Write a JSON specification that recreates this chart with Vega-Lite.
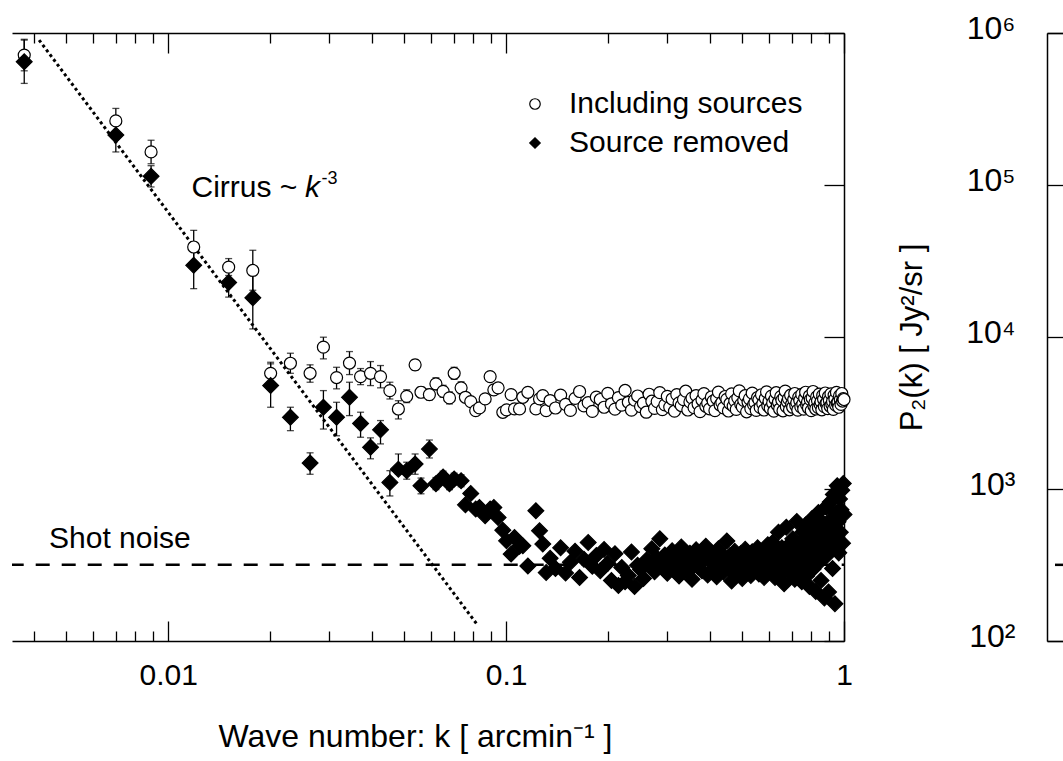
{
  "$schema": "https://vega.github.io/schema/vega-lite/v6.json",
  "padding": {"left": 10, "top": 12, "right": 0, "bottom": 5},
  "background": "white",
  "config": {"view": {"stroke": null}, "font": "Liberation Sans"},
  "spacing": 203,
  "bounds": "flush",
  "resolve": {"legend": {"shape": "independent", "fill": "independent", "stroke": "independent"}},
  "datasets": {
    "pts": [
      {"k":0.00375,"inc":716000,"rem":647000},{"k":0.0070,"inc":264000,"rem":213000},{"k":0.0089,"inc":165000,"rem":114000},
      {"k":0.0119,"inc":39100,"rem":29600},{"k":0.0151,"inc":28800,"rem":22800},{"k":0.0178,"inc":27400,"rem":18100},
      {"k":0.0201,"inc":5770,"rem":4790},{"k":0.0230,"inc":6720,"rem":2960},{"k":0.0263,"inc":5770,"rem":1480},
      {"k":0.0288,"inc":8570,"rem":3450},{"k":0.0315,"inc":5410,"rem":2960},{"k":0.0344,"inc":6740,"rem":4010},
      {"k":0.0371,"inc":5490,"rem":2700},{"k":0.0397,"inc":5770,"rem":1880},{"k":0.0425,"inc":5490,"rem":2450},
      {"k":0.0453,"inc":4440,"rem":1105},{"k":0.0480,"inc":3360,"rem":1350},{"k":0.0508,"inc":4070,"rem":1320},
      {"k":0.0538,"inc":6560,"rem":1460},{"k":0.0560,"inc":4330,"rem":1050},{"k":0.0593,"inc":4180,"rem":1830},
      {"k":0.0620,"inc":4920,"rem":1083},{"k":0.0651,"inc":4390,"rem":1200},{"k":0.0680,"inc":3975,"rem":1083},
      {"k":0.0702,"inc":5770,"rem":1163},{"k":0.0736,"inc":4630,"rem":1133},{"k":0.0758,"inc":4012,"rem":787},
      {"k":0.0786,"inc":3758,"rem":935},{"k":0.0813,"inc":3279,"rem":738},{"k":0.0834,"inc":3416,"rem":756},
      {"k":0.0867,"inc":3916,"rem":666},{"k":0.0897,"inc":5492,"rem":738},{"k":0.0920,"inc":4489,"rem":756},
      {"k":0.0947,"inc":4627,"rem":649},{"k":0.0978,"inc":3196,"rem":536},{"k":0.1003,"inc":3313,"rem":456},
      {"k":0.1035,"inc":4180,"rem":373},{"k":0.1059,"inc":3363,"rem":479},{"k":0.1096,"inc":3363,"rem":420},
      {"k":0.1121,"inc":4012,"rem":423},{"k":0.1160,"inc":4327,"rem":312},{"k":0.1225,"inc":3363,"rem":719},
      {"k":0.1256,"inc":3916,"rem":531},{"k":0.1284,"inc":4117,"rem":434},{"k":0.1314,"inc":3279,"rem":282},
      {"k":0.135,"inc":3820,"rem":350},{"k":0.140,"inc":3410,"rem":300},{"k":0.145,"inc":4150,"rem":410},
      {"k":0.150,"inc":3600,"rem":280},{"k":0.155,"inc":3290,"rem":330},{"k":0.160,"inc":3950,"rem":390},
      {"k":0.165,"inc":4380,"rem":262},{"k":0.170,"inc":3520,"rem":345},{"k":0.175,"inc":3700,"rem":445},
      {"k":0.180,"inc":3240,"rem":310},{"k":0.185,"inc":4020,"rem":365},{"k":0.190,"inc":3880,"rem":290},
      {"k":0.195,"inc":3450,"rem":400},{"k":0.200,"inc":4260,"rem":325},{"k":0.205,"inc":3630,"rem":250},
      {"k":0.210,"inc":3350,"rem":375},{"k":0.215,"inc":3990,"rem":232},{"k":0.220,"inc":3560,"rem":305},
      {"k":0.225,"inc":4450,"rem":245},{"k":0.230,"inc":3720,"rem":270},{"k":0.235,"inc":3300,"rem":385},
      {"k":0.240,"inc":3840,"rem":228},{"k":0.245,"inc":4090,"rem":315},{"k":0.250,"inc":3480,"rem":295},
      {"k":0.255,"inc":3670,"rem":258},{"k":0.260,"inc":3200,"rem":340},{"k":0.265,"inc":4200,"rem":330},
      {"k":0.270,"inc":3780,"rem":405},{"k":0.275,"inc":3390,"rem":285},{"k":0.280,"inc":3760,"rem":350},
      {"k":0.285,"inc":4310,"rem":470},{"k":0.290,"inc":3330,"rem":312},{"k":0.295,"inc":3580,"rem":368},
      {"k":0.300,"inc":4070,"rem":279},{"k":0.305,"inc":3460,"rem":335},{"k":0.310,"inc":3910,"rem":392},
      {"k":0.315,"inc":3250,"rem":301},{"k":0.320,"inc":4180,"rem":356},{"k":0.325,"inc":3690,"rem":268},
      {"k":0.330,"inc":3540,"rem":415},{"k":0.335,"inc":3870,"rem":322},{"k":0.340,"inc":4400,"rem":347},
      {"k":0.345,"inc":3310,"rem":286},{"k":0.350,"inc":3740,"rem":378},{"k":0.355,"inc":3960,"rem":255},
      {"k":0.360,"inc":3430,"rem":332},{"k":0.365,"inc":4120,"rem":398},{"k":0.370,"inc":3620,"rem":308},
      {"k":0.375,"inc":3230,"rem":361},{"k":0.380,"inc":3850,"rem":290},{"k":0.385,"inc":4240,"rem":344},
      {"k":0.390,"inc":3500,"rem":420},{"k":0.395,"inc":3680,"rem":272},{"k":0.400,"inc":3370,"rem":338},
      {"k":0.405,"inc":4030,"rem":382},{"k":0.410,"inc":3790,"rem":296},{"k":0.415,"inc":3280,"rem":352},
      {"k":0.420,"inc":3940,"rem":265},{"k":0.425,"inc":4340,"rem":405},{"k":0.430,"inc":3570,"rem":318},
      {"k":0.435,"inc":3710,"rem":372},{"k":0.440,"inc":3420,"rem":284},{"k":0.445,"inc":4060,"rem":341},
      {"k":0.450,"inc":3890,"rem":455},{"k":0.455,"inc":3260,"rem":300},{"k":0.460,"inc":3650,"rem":365},
      {"k":0.465,"inc":4230,"rem":248},{"k":0.470,"inc":3510,"rem":326},{"k":0.475,"inc":3800,"rem":389},
      {"k":0.480,"inc":3340,"rem":292},{"k":0.485,"inc":3980,"rem":347},{"k":0.490,"inc":4420,"rem":310},
      {"k":0.495,"inc":3600,"rem":376},{"k":0.500,"inc":3470,"rem":258},{"k":0.505,"inc":3830,"rem":334},
      {"k":0.510,"inc":4110,"rem":401},{"k":0.515,"inc":3220,"rem":288},{"k":0.520,"inc":3730,"rem":359},
      {"k":0.525,"inc":3920,"rem":313},{"k":0.530,"inc":3380,"rem":270},{"k":0.535,"inc":4270,"rem":386},
      {"k":0.540,"inc":3590,"rem":330},{"k":0.545,"inc":3700,"rem":296},{"k":0.550,"inc":3290,"rem":362},
      {"k":0.555,"inc":4000,"rem":410},{"k":0.560,"inc":3860,"rem":276},{"k":0.565,"inc":3440,"rem":343},
      {"k":0.570,"inc":4170,"rem":305},{"k":0.575,"inc":3640,"rem":392},{"k":0.580,"inc":3310,"rem":262},
      {"k":0.585,"inc":3950,"rem":355},{"k":0.590,"inc":4360,"rem":320},{"k":0.595,"inc":3530,"rem":430},
      {"k":0.600,"inc":3770,"rem":285},{"k":0.605,"inc":3400,"rem":372},{"k":0.610,"inc":4080,"rem":298},
      {"k":0.615,"inc":3680,"rem":445},{"k":0.620,"inc":3250,"rem":340},{"k":0.625,"inc":3900,"rem":262},
      {"k":0.630,"inc":4300,"rem":395},{"k":0.635,"inc":3560,"rem":318},{"k":0.640,"inc":3720,"rem":520},
      {"k":0.645,"inc":3360,"rem":352},{"k":0.650,"inc":4050,"rem":280},{"k":0.655,"inc":3840,"rem":410},
      {"k":0.660,"inc":3270,"rem":330},{"k":0.665,"inc":3990,"rem":238},{"k":0.670,"inc":4410,"rem":368},
      {"k":0.675,"inc":3490,"rem":560},{"k":0.680,"inc":3750,"rem":305},{"k":0.685,"inc":3930,"rem":425},
      {"k":0.690,"inc":3320,"rem":350},{"k":0.695,"inc":4140,"rem":276},{"k":0.700,"inc":3610,"rem":390},
      {"k":0.705,"inc":3450,"rem":470},{"k":0.710,"inc":3880,"rem":322},{"k":0.715,"inc":4250,"rem":255},
      {"k":0.720,"inc":3540,"rem":408},{"k":0.725,"inc":3700,"rem":612},{"k":0.730,"inc":3300,"rem":345},
      {"k":0.735,"inc":4020,"rem":292},{"k":0.740,"inc":3820,"rem":438},{"k":0.745,"inc":3470,"rem":372},
      {"k":0.750,"inc":4190,"rem":245},{"k":0.755,"inc":3630,"rem":520},{"k":0.760,"inc":3350,"rem":395},
      {"k":0.765,"inc":3960,"rem":330},{"k":0.770,"inc":4330,"rem":580},{"k":0.775,"inc":3580,"rem":268},
      {"k":0.780,"inc":3740,"rem":450},{"k":0.785,"inc":3410,"rem":360},{"k":0.790,"inc":4090,"rem":228},
      {"k":0.795,"inc":3870,"rem":505},{"k":0.800,"inc":3280,"rem":405},{"k":0.805,"inc":3970,"rem":640},
      {"k":0.810,"inc":4380,"rem":298},{"k":0.815,"inc":3520,"rem":470},{"k":0.820,"inc":3690,"rem":360},
      {"k":0.825,"inc":3360,"rem":212},{"k":0.830,"inc":4040,"rem":545},{"k":0.835,"inc":3800,"rem":420},
      {"k":0.840,"inc":3430,"rem":700},{"k":0.845,"inc":4210,"rem":330},{"k":0.850,"inc":3600,"rem":480},
      {"k":0.855,"inc":3750,"rem":250},{"k":0.860,"inc":3320,"rem":610},{"k":0.865,"inc":4130,"rem":395},
      {"k":0.870,"inc":3890,"rem":520},{"k":0.875,"inc":3480,"rem":192},{"k":0.880,"inc":4280,"rem":450},
      {"k":0.885,"inc":3650,"rem":760},{"k":0.890,"inc":3710,"rem":365},{"k":0.895,"inc":3380,"rem":580},
      {"k":0.900,"inc":4060,"rem":210},{"k":0.905,"inc":3830,"rem":490},{"k":0.910,"inc":3500,"rem":820},
      {"k":0.915,"inc":4230,"rem":420},{"k":0.920,"inc":3620,"rem":640},{"k":0.925,"inc":3770,"rem":300},
      {"k":0.930,"inc":3340,"rem":920},{"k":0.935,"inc":4150,"rem":540},{"k":0.940,"inc":3900,"rem":176},
      {"k":0.945,"inc":3560,"rem":700},{"k":0.950,"inc":4320,"rem":460},{"k":0.955,"inc":3680,"rem":1050},
      {"k":0.960,"inc":3720,"rem":610},{"k":0.965,"inc":3450,"rem":380},{"k":0.970,"inc":4100,"rem":860},
      {"k":0.975,"inc":3860,"rem":520},{"k":0.980,"inc":3600,"rem":730},{"k":0.985,"inc":4250,"rem":980},
      {"k":0.990,"inc":3790,"rem":440},{"k":0.995,"inc":3930,"rem":1085},{"k":1.000,"inc":3880,"rem":680}
    ],
    "err": [
      {"k":0.00375,"alo":564000,"ahi":909000,"blo":466000,"bhi":898000},
      {"k":0.0070,"alo":219000,"ahi":319000,"blo":165000,"bhi":274000},
      {"k":0.0089,"alo":138000,"ahi":197000,"blo":97100,"bhi":134000},
      {"k":0.0119,"alo":30300,"ahi":50300,"blo":20800,"bhi":42100},
      {"k":0.0151,"alo":25400,"ahi":32800,"blo":18300,"bhi":28300},
      {"k":0.0178,"alo":20300,"ahi":37200,"blo":11300,"bhi":29000},
      {"k":0.0201,"alo":4880,"ahi":6820,"blo":3450,"bhi":6660},
      {"k":0.0230,"alo":5770,"ahi":7820,"blo":2420,"bhi":3450},
      {"k":0.0263,"alo":5040,"ahi":6560,"blo":1250,"bhi":1730},
      {"k":0.0288,"alo":7180,"ahi":9970,"blo":2480,"bhi":4440},
      {"k":0.0315,"alo":4560,"ahi":6320,"blo":2240,"bhi":3720},
      {"k":0.0344,"alo":5660,"ahi":8020,"blo":3040,"bhi":5040},
      {"k":0.0371,"alo":4860,"ahi":6200,"blo":2190,"bhi":3200},
      {"k":0.0397,"alo":4790,"ahi":6890,"blo":1580,"bhi":2170},
      {"k":0.0425,"alo":4630,"ahi":6490,"blo":1980,"bhi":2820},
      {"k":0.0453,"alo":3910,"ahi":5040,"blo":900,"bhi":1320},
      {"k":0.0480,"alo":2890,"ahi":3810,"blo":1250,"bhi":1700},
      {"k":0.0508,"alo":3700,"ahi":4500,"blo":1160,"bhi":1500},
      {"k":0.0538,"alo":6050,"ahi":7100,"blo":1250,"bhi":1700},
      {"k":0.0560,"alo":4000,"ahi":4700,"blo":930,"bhi":1180},
      {"k":0.0593,"alo":3850,"ahi":4550,"blo":1600,"bhi":2100},
      {"k":0.0620,"alo":4490,"ahi":5390,"blo":990,"bhi":1190},
      {"k":0.0651,"alo":4010,"ahi":4810,"blo":1095,"bhi":1310},
      {"k":0.0680,"alo":3630,"ahi":4350,"blo":990,"bhi":1190},
      {"k":0.0702,"alo":5270,"ahi":6320,"blo":1060,"bhi":1270},
      {"k":0.0736,"alo":4230,"ahi":5070,"blo":1035,"bhi":1240}
    ],
    "cirrus": [{"k":0.00415,"p":899000},{"k":0.0824,"p":127}],
    "shot": [{"p":317}]
  },
  "hconcat": [
    {
      "width": 832,
      "height": 608,
      "resolve": {"axis": {"x": "independent", "y": "independent"}},
      "layer": [
        {
          "data": {"name": "shot"},
          "mark": {"type": "rule", "color": "black", "strokeWidth": 2.5, "strokeDash": [14, 12], "strokeDashOffset": 11.7},
          "encoding": {
            "y": {"field": "p", "type": "quantitative", "scale": {"type": "log", "domain": [100, 1000000], "nice": false},
              "axis": {"orient": "right", "offset": 203, "values": [100, 1000, 10000, 100000, 1000000],
                "labelExpr": "datum.value == 100 ? '10\\u00b2' : datum.value == 1000 ? '10\\u00b3' : datum.value == 10000 ? '10\\u2074' : datum.value == 100000 ? '10\\u2075' : '10\\u2076'",
                "tickSize": 17, "tickColor": "black", "tickWidth": 1.3, "domainColor": "black", "domainWidth": 1.5, "grid": false,
                "labelFont": "Liberation Sans", "labelFontSize": 32, "labelColor": "black", "labelPadding": -49, "labelAlign": "right",
                "labelBaseline": "alphabetic", "labelOffset": 5,
                "labelFlush": false, "labelOverlap": false, "labelBound": false,
                "title": "P₂(k)  [ Jy²/sr ]", "titleFont": "Liberation Sans", "titleFontSize": 31, "titleFontWeight": "normal", "titleColor": "black",
                "titleX": -135, "titleY": 304, "titleAngle": -90, "titleBaseline": "middle", "titleAlign": "center"}}
          }
        },
        {
          "data": {"name": "cirrus"},
          "mark": {"type": "line", "color": "black", "strokeWidth": 3, "strokeDash": [3, 3], "strokeCap": "butt"},
          "encoding": {
            "x": {"field": "k", "type": "quantitative", "scale": {"type": "log", "domain": [0.00345, 1], "nice": false},
              "axis": {"orient": "top", "values": [0.004,0.005,0.006,0.007,0.008,0.009,0.01,0.02,0.03,0.04,0.05,0.06,0.07,0.08,0.09,0.1,0.2,0.3,0.4,0.5,0.6,0.7,0.8,0.9,1],
                "labels": false, "title": null, "grid": false, "domainColor": "black", "domainWidth": 1.5, "tickColor": "black", "tickWidth": 1.3,
                "tickSize": {"condition": {"test": "datum.value == 0.01 || datum.value == 0.1 || datum.value == 1", "value": -20}, "value": -10}}},
            "y": {"field": "p", "type": "quantitative", "scale": {"type": "log", "domain": [100, 1000000], "nice": false}, "axis": null}
          }
        },
        {
          "data": {"name": "err"},
          "mark": {"type": "errorbar", "ticks": {"size": 7}, "thickness": 1.3, "color": "black"},
          "encoding": {
            "x": {"field": "k", "type": "quantitative", "scale": {"type": "log", "domain": [0.00345, 1], "nice": false}, "axis": null},
            "y": {"field": "alo", "type": "quantitative", "scale": {"type": "log", "domain": [100, 1000000], "nice": false}, "axis": null},
            "y2": {"field": "ahi"}
          }
        },
        {
          "data": {"name": "err"},
          "mark": {"type": "errorbar", "ticks": {"size": 7}, "thickness": 1.3, "color": "black"},
          "encoding": {
            "x": {"field": "k", "type": "quantitative", "scale": {"type": "log", "domain": [0.00345, 1], "nice": false}, "axis": null},
            "y": {"field": "blo", "type": "quantitative", "scale": {"type": "log", "domain": [100, 1000000], "nice": false}, "axis": null},
            "y2": {"field": "bhi"}
          }
        },
        {
          "data": {"name": "pts"},
          "transform": [{"fold": ["inc", "rem"], "as": ["series", "p"]}],
          "mark": {"type": "point", "filled": true, "strokeWidth": 1.2, "opacity": 1},
          "encoding": {
            "x": {"field": "k", "type": "quantitative", "scale": {"type": "log", "domain": [0.00345, 1], "nice": false},
              "axis": {"orient": "bottom", "values": [0.004,0.005,0.006,0.007,0.008,0.009,0.01,0.02,0.03,0.04,0.05,0.06,0.07,0.08,0.09,0.1,0.2,0.3,0.4,0.5,0.6,0.7,0.8,0.9,1],
                "labelExpr": "datum.value == 0.01 ? '0.01' : datum.value == 0.1 ? '0.1' : datum.value == 1 ? '1' : ''",
                "tickSize": {"condition": {"test": "datum.value == 0.01 || datum.value == 0.1 || datum.value == 1", "value": -20}, "value": -10},
                "tickColor": "black", "tickWidth": 1.3, "domainColor": "black", "domainWidth": 1.5, "grid": false,
                "labelFont": "Liberation Sans", "labelFontSize": 30, "labelColor": "black", "labelPadding": 39,
                "labelFlush": false, "labelOverlap": false, "labelBound": false,
                "title": "Wave number: k  [ arcmin⁻¹ ]", "titleFont": "Liberation Sans", "titleFontSize": 32, "titleFontWeight": "normal", "titleColor": "black",
                "titleX": 403, "titleY": 105, "titleBaseline": "alphabetic", "titleAlign": "center"}},
            "y": {"field": "p", "type": "quantitative", "scale": {"type": "log", "domain": [100, 1000000], "nice": false},
              "axis": {"orient": "right", "values": [100, 1000, 10000, 100000, 1000000], "labels": false, "title": null, "grid": false,
                "tickSize": -20, "tickColor": "black", "tickWidth": 1.3, "domainColor": "black", "domainWidth": 1.5}},
            "shape": {"field": "series", "type": "nominal", "scale": {"domain": ["inc", "rem"], "range": ["circle", "diamond"]},
              "legend": {"title": null, "orient": "none", "legendX": 508, "legendY": 56, "padding": 0, "rowPadding": 9, "labelOffset": 19, "labelLimit": 500,
                "labelFont": "Liberation Sans", "labelFontSize": 30, "labelColor": "black",
                "labelExpr": "datum.value == 'inc' ? 'Including sources' : 'Source removed'",
                "symbolStrokeWidth": 1.2, "symbolSize": 110,
                "encode": {"symbols": {"update": {"size": {"signal": "datum.value == 'inc' ? 64 : 170"}}}}}},
            "fill": {"field": "series", "type": "nominal", "scale": {"domain": ["inc", "rem"], "range": ["white", "black"]},
              "legend": {"title": null, "orient": "none", "legendX": 508, "legendY": 56, "padding": 0, "rowPadding": 9, "labelOffset": 19, "labelLimit": 500,
                "labelFont": "Liberation Sans", "labelFontSize": 30, "labelColor": "black",
                "labelExpr": "datum.value == 'inc' ? 'Including sources' : 'Source removed'",
                "symbolStrokeWidth": 1.2, "symbolSize": 110,
                "encode": {"symbols": {"update": {"size": {"signal": "datum.value == 'inc' ? 64 : 170"}}}}}},
            "stroke": {"field": "series", "type": "nominal", "scale": {"domain": ["inc", "rem"], "range": ["black", "black"]},
              "legend": {"title": null, "orient": "none", "legendX": 508, "legendY": 56, "padding": 0, "rowPadding": 9, "labelOffset": 19, "labelLimit": 500,
                "labelFont": "Liberation Sans", "labelFontSize": 30, "labelColor": "black",
                "labelExpr": "datum.value == 'inc' ? 'Including sources' : 'Source removed'",
                "symbolStrokeWidth": 1.2, "symbolSize": 110,
                "encode": {"symbols": {"update": {"size": {"signal": "datum.value == 'inc' ? 64 : 170"}}}}}},
            "size": {"field": "series", "type": "nominal", "scale": {"domain": ["inc", "rem"], "range": [144, 250]}, "legend": null},
            "order": {"field": "series", "type": "ordinal"}
          }
        },
        {
          "data": {"values": [{}]},
          "mark": {"type": "text", "text": "Shot noise", "align": "left", "baseline": "alphabetic", "fontSize": 30, "font": "Liberation Sans", "color": "black"},
          "encoding": {
            "x": {"datum": 0.00444, "type": "quantitative", "scale": {"type": "log", "domain": [0.00345, 1], "nice": false}, "axis": null},
            "y": {"datum": 409, "type": "quantitative", "scale": {"type": "log", "domain": [100, 1000000], "nice": false}, "axis": null}
          }
        },
        {
          "data": {"values": [{}]},
          "mark": {"type": "text", "text": "Cirrus ~", "align": "left", "baseline": "alphabetic", "fontSize": 30, "font": "Liberation Sans", "color": "black"},
          "encoding": {
            "x": {"datum": 0.01172, "type": "quantitative", "scale": {"type": "log", "domain": [0.00345, 1], "nice": false}, "axis": null},
            "y": {"datum": 83700, "type": "quantitative", "scale": {"type": "log", "domain": [100, 1000000], "nice": false}, "axis": null}
          }
        },
        {
          "data": {"values": [{}]},
          "mark": {"type": "text", "text": "k", "align": "left", "baseline": "alphabetic", "fontSize": 30, "fontStyle": "italic", "font": "Liberation Sans", "color": "black"},
          "encoding": {
            "x": {"datum": 0.0254, "type": "quantitative", "scale": {"type": "log", "domain": [0.00345, 1], "nice": false}, "axis": null},
            "y": {"datum": 83700, "type": "quantitative", "scale": {"type": "log", "domain": [100, 1000000], "nice": false}, "axis": null}
          }
        },
        {
          "data": {"values": [{}]},
          "mark": {"type": "text", "text": "-3", "align": "left", "baseline": "alphabetic", "fontSize": 18, "font": "Liberation Sans", "color": "black"},
          "encoding": {
            "x": {"datum": 0.02845, "type": "quantitative", "scale": {"type": "log", "domain": [0.00345, 1], "nice": false}, "axis": null},
            "y": {"datum": 101600, "type": "quantitative", "scale": {"type": "log", "domain": [100, 1000000], "nice": false}, "axis": null}
          }
        }
      ]
    },
    {
      "width": 17,
      "height": 608,
      "data": {"name": "shot"},
      "resolve": {"axis": {"x": "independent"}},
      "layer": [
        {
          "mark": {"type": "rule", "color": "black", "strokeWidth": 2.5, "strokeDash": [14, 12], "strokeDashOffset": 18},
          "encoding": {
            "x": {"datum": 0, "type": "quantitative", "scale": {"domain": [0, 1], "nice": false},
              "axis": {"orient": "bottom", "ticks": false, "labels": false, "title": null, "grid": false, "domainColor": "black", "domainWidth": 1.5}},
            "x2": {"datum": 1},
            "y": {"field": "p", "type": "quantitative", "scale": {"type": "log", "domain": [100, 1000000], "nice": false}, "axis": null}
          }
        },
        {
          "mark": {"type": "rule", "strokeOpacity": 0},
          "encoding": {
            "x": {"datum": 0, "type": "quantitative", "scale": {"domain": [0, 1], "nice": false},
              "axis": {"orient": "top", "ticks": false, "labels": false, "title": null, "grid": false, "domainColor": "black", "domainWidth": 1.5}},
            "x2": {"datum": 1},
            "y": {"field": "p", "type": "quantitative", "scale": {"type": "log", "domain": [100, 1000000], "nice": false}, "axis": null}
          }
        }
      ]
    }
  ]
}
